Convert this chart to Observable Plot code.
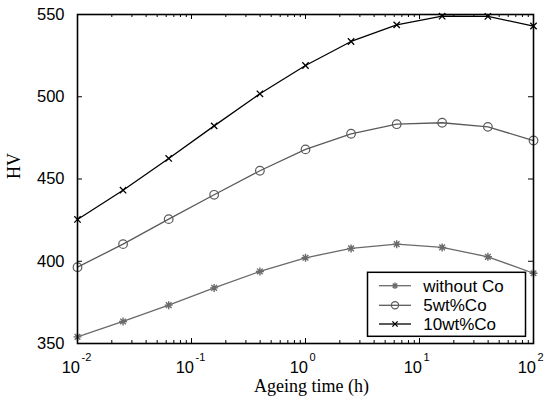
<!DOCTYPE html>
<html>
<head>
<meta charset="utf-8">
<script src="https://cdn.jsdelivr.net/npm/d3@7"></script>
<script src="https://cdn.jsdelivr.net/npm/@observablehq/plot@0.6"></script>
<style>
  body { margin: 0; background: #fff; }
  #chart { position: relative; width: 556px; height: 402px; }
</style>
</head>
<body>
<div id="chart"></div>
<script>
// Ageing time (h), sampled every 0.4 decade
const hours = [0.01, 0.0251, 0.0631, 0.158, 0.398, 1, 2.51, 6.31, 15.8, 39.8, 100];

// Vickers hardness (HV) for each alloy
const withoutCo = [354, 363.4, 373.3, 383.8, 393.8, 402.1, 407.8, 410.4, 408.4, 402.7, 392.7];
const co5 = [396.4, 410.4, 425.6, 440.4, 455, 468, 477.5, 483.3, 484.2, 481.7, 473.4];
const co10 = [425.4, 443.2, 462.5, 482.3, 501.8, 519, 533.6, 543.7, 549, 548.8, 543];

const seriesNames = ["without Co", "5wt%Co", "10wt%Co"];

// Axis ticks and labels
const xTicks = [0.01, 0.1, 1, 10, 100];
const xExponents = ["-2", "-1", "0", "1", "2"];
const yTicks = [350, 400, 450, 500, 550];
const xMinor = xTicks.slice(0, -1).flatMap(d => [2, 3, 4, 5, 6, 7, 8, 9].map(m => d * m));

const sans = "'Liberation Sans', Arial, Helvetica, sans-serif";
const serif = "'Liberation Serif', 'Times New Roman', Times, serif";

// Eight-armed asterisk marker
const asterisk8 = {
  draw(ctx, size) {
    const r = Math.sqrt(size / Math.PI);
    const d = r * Math.SQRT1_2;
    ctx.moveTo(-r, 0); ctx.lineTo(r, 0);
    ctx.moveTo(0, -r); ctx.lineTo(0, r);
    ctx.moveTo(-d, -d); ctx.lineTo(d, d);
    ctx.moveTo(-d, d); ctx.lineTo(d, -d);
  }
};

const grey1 = "#6a6a6a";
const grey2 = "#5a5a5a";

const W = 556, H = 402;
const M = { top: 14, right: 23, bottom: 59, left: 77 };
const frameW = W - M.left - M.right;
const frameH = H - M.top - M.bottom;
const major = 5, minor = 3;

// short inward tick helpers: a full-frame tick shortened by insets
const tickStyle = { stroke: "#000", strokeWidth: 1 };
const bottomTicks = (data, len) => Plot.tickX(data, { x: d => d, insetTop: frameH - len, ...tickStyle });
const topTicks = (data, len) => Plot.tickX(data, { x: d => d, insetBottom: frameH - len, ...tickStyle });
const leftTicks = (data, len) => Plot.tickY(data, { y: d => d, insetRight: frameW - len, ...tickStyle });
const rightTicks = (data, len) => Plot.tickY(data, { y: d => d, insetLeft: frameW - len, ...tickStyle });

const plot = Plot.plot({
  width: W,
  height: H,
  marginLeft: M.left,
  marginRight: M.right,
  marginTop: M.top,
  marginBottom: M.bottom,
  style: { fontFamily: sans, fontSize: "16px", background: "#fff", overflow: "visible" },
  x: { type: "log", domain: [0.01, 100], label: null, axis: null },
  y: { domain: [350, 550], label: null, axis: null },
  marks: [
    bottomTicks(xTicks, major),
    bottomTicks(xMinor, minor),
    topTicks(xTicks, major),
    topTicks(xMinor, minor),
    leftTicks(yTicks, major),
    rightTicks(yTicks, major),
    // y tick labels
    Plot.text(yTicks, { y: d => d, frameAnchor: "left", text: d => String(d), textAnchor: "end",
      dx: -13, fontSize: 16.5, fill: "#000" }),
    // x tick labels as 10 with raised exponent
    Plot.text(xTicks, { x: d => d, frameAnchor: "bottom", text: () => "10", textAnchor: "end",
      lineAnchor: "bottom", dx: 2.5, dy: 29.5, fontSize: 16.5, fill: "#000" }),
    Plot.text(xTicks, { x: d => d, frameAnchor: "bottom", text: xExponents, textAnchor: "start",
      lineAnchor: "bottom", dx: 4, dy: 17.5, fontSize: 11, fill: "#000" }),
    // axis titles
    Plot.text(["Ageing time (h)"], { frameAnchor: "bottom", lineAnchor: "bottom", dx: 6, dy: 48,
      fontFamily: serif, fontSize: 18, fill: "#000" }),
    Plot.text(["HV"], { frameAnchor: "left", rotate: -90, dx: -63, fontFamily: serif, fontSize: 18, fill: "#000" }),
    // series
    Plot.line(hours, { x: hours, y: withoutCo, stroke: grey1, strokeWidth: 1.3 }),
    Plot.dot(hours, { x: hours, y: withoutCo, symbol: asterisk8, r: 4, stroke: grey1, strokeWidth: 1.4, fill: "none" }),
    Plot.line(hours, { x: hours, y: co5, stroke: grey2, strokeWidth: 1.3 }),
    Plot.dot(hours, { x: hours, y: co5, symbol: "circle", r: 4.3, stroke: grey2, strokeWidth: 1.2, fill: "none" }),
    Plot.line(hours, { x: hours, y: co10, stroke: "#000", strokeWidth: 1.3 }),
    Plot.dot(hours, { x: hours, y: co10, symbol: "times", r: 3, stroke: "#000", strokeWidth: 1.3, fill: "none" }),
    Plot.frame({ stroke: "#000", strokeWidth: 1.6 })
  ]
});

document.getElementById("chart").appendChild(plot);

// Legend box in the lower right of the plotting area
const svg = d3.select(plot);
const legend = svg.append("g").attr("class", "legend").attr("text-anchor", "start");
legend.append("rect")
  .attr("x", 367.5).attr("y", 272.3).attr("width", 158).attr("height", 64)
  .attr("fill", "#fff").attr("stroke", "#000").attr("stroke-width", 1.5);

const legendStyles = [
  { stroke: grey1, symbol: asterisk8, size: Math.PI * 3.2 * 3.2, sw: 1.3 },
  { stroke: grey2, symbol: d3.symbolCircle, size: Math.PI * 3.6 * 3.6, sw: 1.2 },
  { stroke: "#000", symbol: d3.symbolTimes, size: 20, sw: 1.3 }
];
const rowY = [285.7, 305.3, 324];

seriesNames.forEach((name, i) => {
  const s = legendStyles[i];
  const y = rowY[i];
  legend.append("line")
    .attr("x1", 379).attr("x2", 411).attr("y1", y).attr("y2", y)
    .attr("stroke", s.stroke).attr("stroke-width", 1.3);
  legend.append("path")
    .attr("transform", `translate(395,${y})`)
    .attr("d", d3.symbol(s.symbol, s.size)())
    .attr("fill", "none").attr("stroke", s.stroke).attr("stroke-width", s.sw);
  legend.append("text")
    .attr("x", 423.3).attr("y", y).attr("dy", "0.35em")
    .attr("text-anchor", "start")
    .attr("font-family", sans).attr("font-size", 17).attr("fill", "#000")
    .text(name);
});
</script>
</body>
</html>
